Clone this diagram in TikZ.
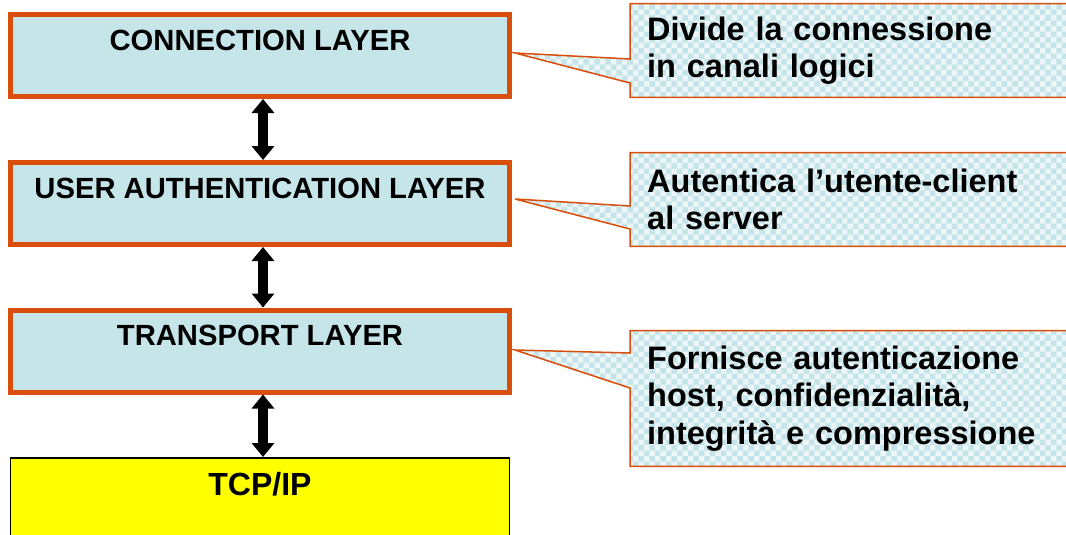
\documentclass[tikz,border=0pt]{standalone}
\usepackage{fontspec}
\setmainfont{Liberation Sans}
\usepackage{tikz}
\usetikzlibrary{arrows.meta, positioning, patterns, backgrounds}
\definecolor{layerblue}{RGB}{197,229,232}
\definecolor{rust}{RGB}{217,78,10}
\definecolor{tcpyellow}{RGB}{255,255,0}
\definecolor{notepale}{RGB}{236,246,247}
\definecolor{notedot}{RGB}{196,228,233}
\tikzstyle{layerbox} = [rectangle, draw=rust, line width=5pt, fill=layerblue, minimum width=499pt, minimum height=82pt]
\tikzstyle{layertext} = [inner sep=0pt, font=\fontsize{29.2}{35}\selectfont\bfseries]
\tikzstyle{groundbox} = [rectangle, draw=black, line width=1.5pt, fill=tcpyellow, minimum width=499pt, minimum height=100pt]
\tikzstyle{remark} = [anchor=west, inner xsep=17pt, inner ysep=0pt, text width=420pt, align=left, font=\fontsize{32.5}{37.5}\selectfont\bfseries]
\tikzstyle{remarkbox} = [draw=rust, line width=1.5pt, preaction={fill=notepale}, pattern=checkerboard, pattern color=notedot]
\tikzstyle{updown} = [{Triangle[width=22pt,length=14pt]}-{Triangle[width=22pt,length=14pt]}, line width=10pt]

\begin{document}
\begin{tikzpicture}[x=1pt, y=-1pt]

    \useasboundingbox (0,0) rectangle (1066,535);

    % protocol stack
    \node (conn)  [layerbox]  at (260,55.5)  {};
    \node (auth)  [layerbox]  at (260,203.5) {};
    \node (trans) [layerbox]  at (260,351)   {};
    \node (tcp)   [groundbox] at (260,507.75) {};

    \node (conntxt)  [layertext, below=17.5pt of conn.north]  {CONNECTION LAYER};
    \node (authtxt)  [layertext, below=17.5pt of auth.north]  {USER AUTHENTICATION LAYER};
    \node (transtxt) [layertext, below=17.5pt of trans.north] {TRANSPORT LAYER};
    \node (tcptxt)   [layertext, font=\fontsize{32}{38}\selectfont\bfseries, below=15pt of tcp.north] {TCP/IP};

    \draw [updown] ([xshift=3pt]conn.south)  -- ([xshift=3pt]auth.north);
    \draw [updown] ([xshift=3pt]auth.south)  -- ([xshift=3pt]trans.north);
    \draw [updown] ([xshift=3pt]trans.south) -- ([xshift=3pt]tcp.north);

    % comments on the right
    \node (divide) [remark, minimum height=93.5pt] at (630,50.5)  {Divide la connessione\\in canali logici};
    \node (authen) [remark, minimum height=93.5pt] at (630,199.5) {Autentica l’utente-client\\al server};
    \node (provid) [remark, minimum height=135.5pt] at (630,398.5) {Fornisce autenticazione\\host, confidenzialità,\\integrità e compressione};

    \coordinate (dividetip) at (515,53);
    \coordinate (authentip) at (515,199);
    \coordinate (providtip) at (515,350);

    \begin{scope}[on background layer]
        \draw [remarkbox] (dividetip) -- ([yshift=-32.5pt]divide.west) -- (divide.south west) -- (divide.south east)
            -- (divide.north east) -- (divide.north west) -- ([yshift=-8.5pt]divide.west) -- cycle;
        \draw [remarkbox] (authentip) -- ([yshift=-29.5pt]authen.west) -- (authen.south west) -- (authen.south east)
            -- (authen.north east) -- (authen.north west) -- ([yshift=-6.5pt]authen.west) -- cycle;
        \draw [remarkbox] (providtip) -- ([yshift=10.5pt]provid.west) -- (provid.south west) -- (provid.south east)
            -- (provid.north east) -- (provid.north west) -- ([yshift=45.5pt]provid.west) -- cycle;
    \end{scope}

\end{tikzpicture}
\end{document}
